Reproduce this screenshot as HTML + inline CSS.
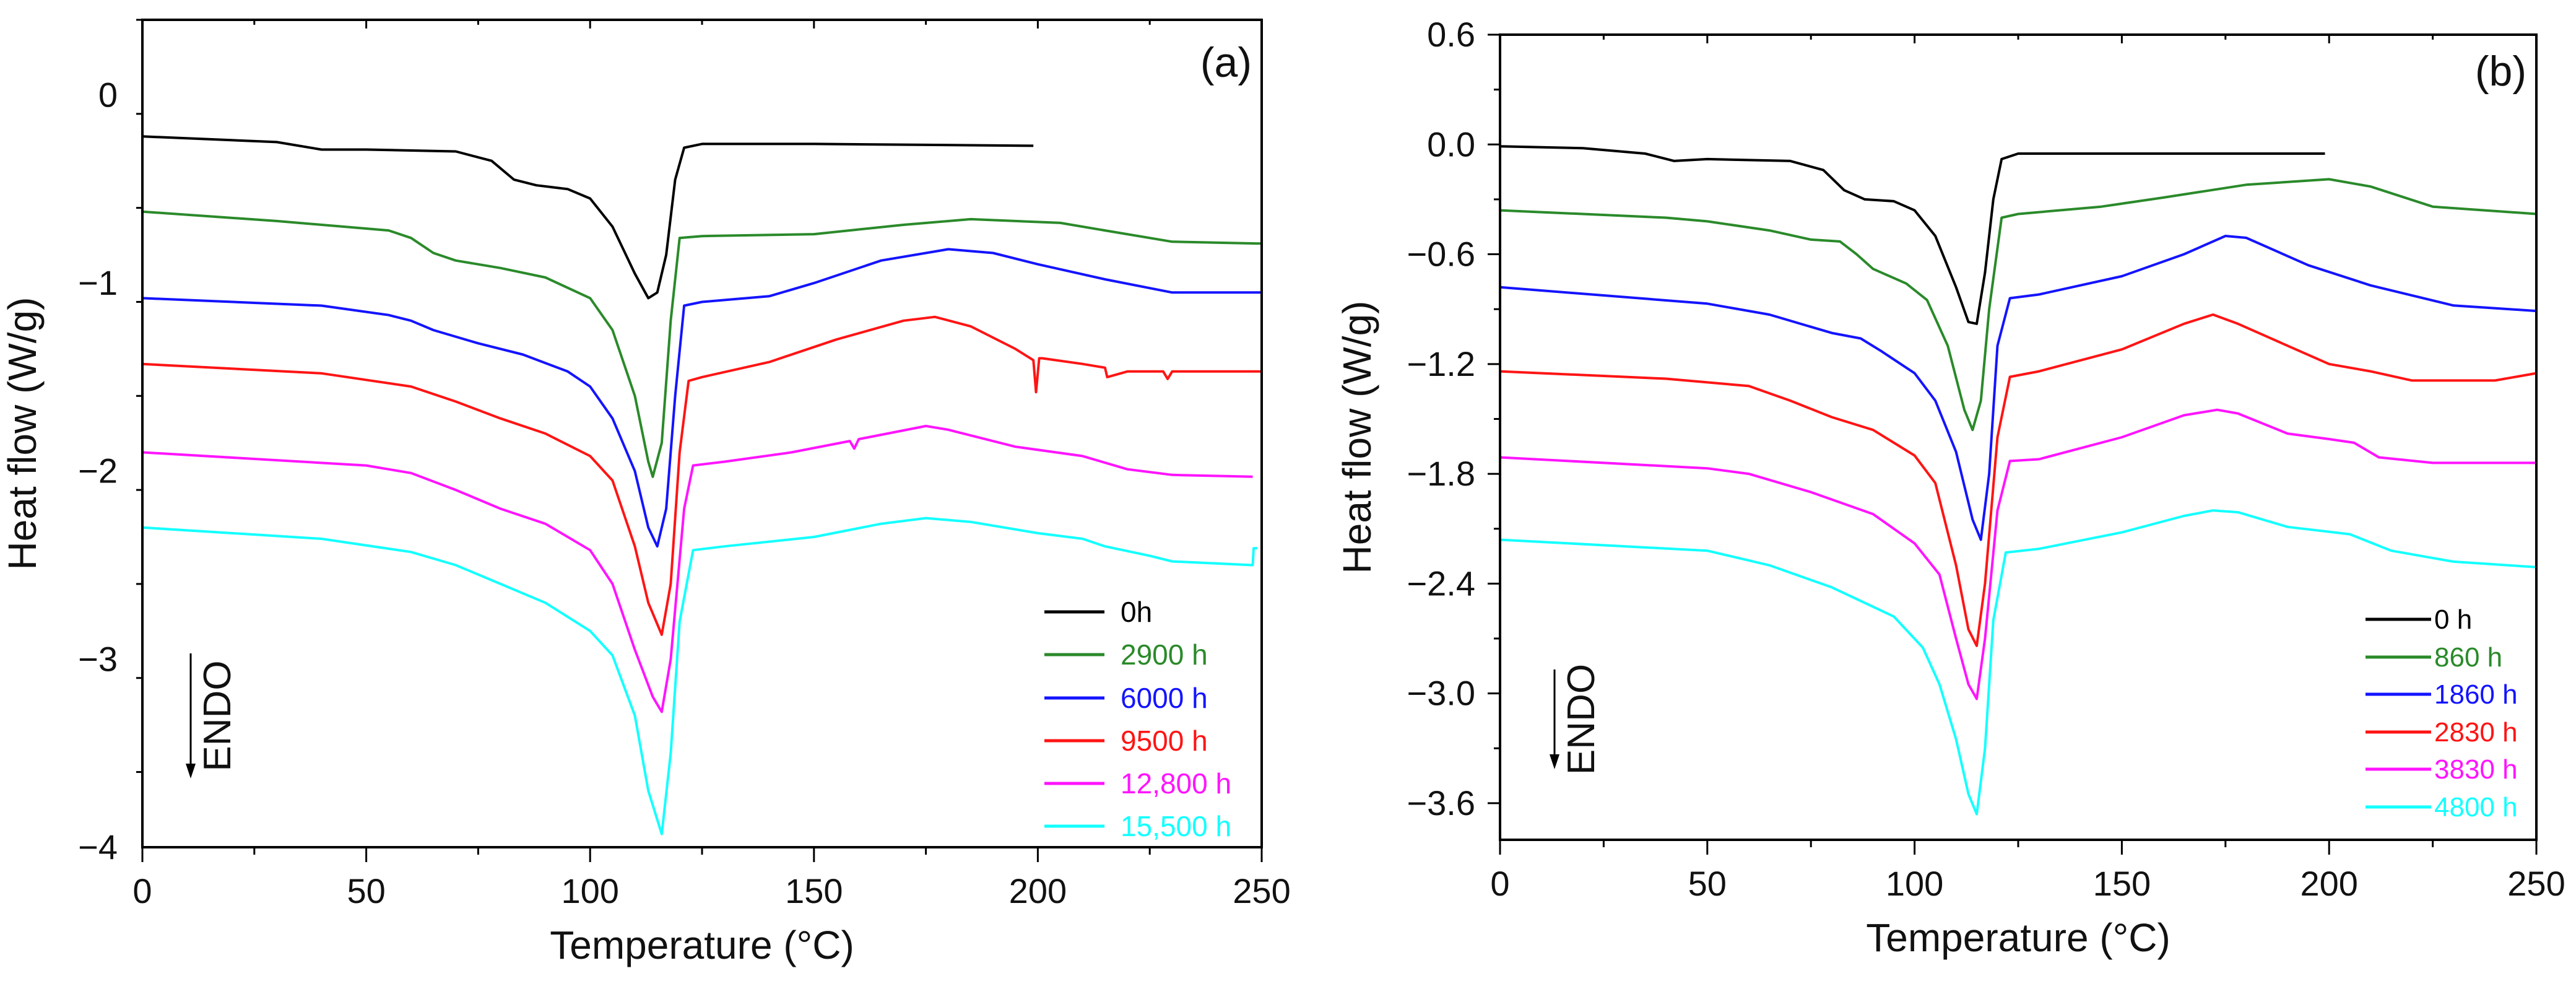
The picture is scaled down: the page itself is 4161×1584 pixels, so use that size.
<!DOCTYPE html>
<html><head><meta charset="utf-8"><style>
html,body{margin:0;padding:0;background:#fff;}
svg{display:block;}
text{font-family:"Liberation Sans",sans-serif;}
</style></head><body>
<svg id="fig" width="4161" height="1584" viewBox="0 0 4161 1584" xmlns="http://www.w3.org/2000/svg"></svg>
<script>
const NS="http://www.w3.org/2000/svg";
const seriesColors=["#000000","#2a8a2a","#1414ff","#ff1414","#ff14ff","#14ffff"];
// Panel (a)
const labelsA=["0h","2900 h","6000 h","9500 h","12,800 h","15,500 h"];
const yTicksA=[0,-1,-2,-3,-4];
const yTickLabelsA=["0","\u22121","\u22122","\u22123","\u22124"];
const xTicks=[0,50,100,150,200,250];
const a0T=[0,30,40,50,70,78,83,88,95,100,105,110,113,115,117,119,121,125,150,199];
const a0V=[-0.22,-0.25,-0.29,-0.29,-0.30,-0.35,-0.45,-0.48,-0.50,-0.55,-0.70,-0.95,-1.08,-1.05,-0.85,-0.45,-0.28,-0.26,-0.26,-0.27];
const a1T=[0,30,55,60,65,70,80,90,100,105,110,113,114,116,118,120,125,150,170,185,205,215,230,250];
const a1V=[-0.62,-0.67,-0.72,-0.76,-0.84,-0.88,-0.92,-0.97,-1.08,-1.25,-1.6,-1.95,-2.03,-1.85,-1.2,-0.76,-0.75,-0.74,-0.69,-0.66,-0.68,-0.72,-0.78,-0.79];
const a2T=[0,40,55,60,65,75,85,95,100,105,110,113,115,117,119,121,125,140,150,165,180,190,200,215,230,250];
const a2V=[-1.08,-1.12,-1.17,-1.20,-1.25,-1.32,-1.38,-1.47,-1.55,-1.72,-2.0,-2.3,-2.4,-2.2,-1.6,-1.12,-1.10,-1.07,-1.0,-0.88,-0.82,-0.84,-0.90,-0.98,-1.05,-1.05];
const a3T=[0,40,60,70,80,90,100,105,110,113,116,118,120,122,125,140,155,170,177,185,195,199,199.6,200.3,201,210,215,215.5,220,228,229,230,250];
const a3V=[-1.43,-1.48,-1.55,-1.63,-1.72,-1.80,-1.92,-2.05,-2.4,-2.7,-2.87,-2.6,-1.9,-1.52,-1.50,-1.42,-1.30,-1.2,-1.18,-1.23,-1.35,-1.41,-1.58,-1.40,-1.40,-1.43,-1.45,-1.50,-1.47,-1.47,-1.51,-1.47,-1.47];
const a4T=[0,50,60,70,80,90,100,105,110,114,116,118,121,123,130,145,158,159,160,175,180,195,210,220,230,248];
const a4V=[-1.90,-1.97,-2.01,-2.10,-2.20,-2.28,-2.42,-2.6,-2.95,-3.2,-3.28,-3.0,-2.2,-1.97,-1.95,-1.90,-1.84,-1.88,-1.83,-1.76,-1.78,-1.87,-1.92,-1.99,-2.02,-2.03];
const a5T=[0,40,60,70,80,90,100,105,110,113,116,118,120,123,130,150,165,175,185,200,210,215,225,230,248,248.2,249];
const a5V=[-2.30,-2.36,-2.43,-2.50,-2.60,-2.70,-2.85,-2.98,-3.3,-3.7,-3.93,-3.5,-2.8,-2.42,-2.40,-2.35,-2.28,-2.25,-2.27,-2.33,-2.36,-2.40,-2.45,-2.48,-2.50,-2.41,-2.41];
// Panel (b)
const labelsB=["0 h","860 h","1860 h","2830 h","3830 h","4800 h"];
const yTicksB=[0.6,0.0,-0.6,-1.2,-1.8,-2.4,-3.0,-3.6];
const yTickLabelsB=["0.6","0.0","\u22120.6","\u22121.2","\u22121.8","\u22122.4","\u22123.0","\u22123.6"];
const b0T=[0,20,35,42,50,70,78,83,88,95,100,105,110,113,115,117,119,121,125,199];
const b0V=[-0.01,-0.02,-0.05,-0.09,-0.08,-0.09,-0.14,-0.25,-0.30,-0.31,-0.36,-0.5,-0.78,-0.97,-0.98,-0.7,-0.3,-0.08,-0.05,-0.05];
const b1T=[0,40,50,65,75,82,86,90,98,103,108,112,114,116,118,121,125,145,160,180,200,210,225,250];
const b1V=[-0.36,-0.40,-0.42,-0.47,-0.52,-0.53,-0.60,-0.68,-0.76,-0.85,-1.1,-1.45,-1.56,-1.4,-0.9,-0.40,-0.38,-0.34,-0.29,-0.22,-0.19,-0.23,-0.34,-0.38];
const b2T=[0,50,65,80,87,92,100,105,110,114,116,118,120,123,130,150,165,175,180,195,210,230,250];
const b2V=[-0.78,-0.87,-0.93,-1.03,-1.06,-1.13,-1.25,-1.4,-1.68,-2.05,-2.16,-1.8,-1.1,-0.84,-0.82,-0.72,-0.6,-0.50,-0.51,-0.66,-0.77,-0.88,-0.91];
const b3T=[0,40,60,70,80,90,100,105,110,113,115,117,120,123,130,150,165,172,178,190,200,210,220,240,250];
const b3V=[-1.24,-1.28,-1.32,-1.40,-1.49,-1.56,-1.70,-1.85,-2.3,-2.65,-2.74,-2.4,-1.6,-1.27,-1.24,-1.12,-0.98,-0.93,-0.98,-1.10,-1.2,-1.24,-1.29,-1.29,-1.25];
const b4T=[0,50,60,75,90,100,106,110,113,115,117,120,123,130,150,165,173,178,190,200,206,212,225,250];
const b4V=[-1.71,-1.77,-1.80,-1.90,-2.02,-2.18,-2.35,-2.7,-2.95,-3.03,-2.7,-2.0,-1.73,-1.72,-1.6,-1.48,-1.45,-1.47,-1.58,-1.61,-1.63,-1.71,-1.74,-1.74];
const b5T=[0,50,65,80,95,102,106,110,113,115,117,119,122,130,150,165,172,178,190,205,215,230,250];
const b5V=[-2.16,-2.22,-2.30,-2.42,-2.58,-2.75,-2.95,-3.25,-3.55,-3.66,-3.3,-2.6,-2.23,-2.21,-2.12,-2.03,-2.00,-2.01,-2.09,-2.13,-2.22,-2.28,-2.31];

const svg=document.getElementById('fig');
function mk(tag,attrs,parent,txt){const e=document.createElementNS(NS,tag);for(const k in attrs)e.setAttribute(k,attrs[k]);if(txt!==undefined)e.textContent=txt;(parent||svg).appendChild(e);return e;}

function panel(cfg){
  const g=mk('g',{});
  
  
  const X=v=>cfg.L+(v-0)/(250-0)*(cfg.R-cfg.L);
  const Y=v=>cfg.T+(cfg.ymax-v)/(cfg.ymax-cfg.ymin)*(cfg.B-cfg.T);
  cfg.series.forEach((s,i)=>{
    const pts=s[0].map((t,j)=>X(t).toFixed(1)+','+Y(s[1][j]).toFixed(1)).join(' ');
    const p=mk('polyline',{points:pts,fill:'none',stroke:seriesColors[i],'stroke-width':4,'stroke-linejoin':'round'},g);
    
    
  });
  const fr=mk('rect',{x:cfg.L,y:cfg.T,width:cfg.R-cfg.L,height:cfg.B-cfg.T,fill:'none',stroke:'#000','stroke-width':4},g);
  
  
  for(let v=0;v<=250;v+=25){
    const major=v%50===0;
    mk('line',{x1:X(v),x2:X(v),y1:cfg.B,y2:cfg.B+(major?24:12),stroke:'#000','stroke-width':3},g);
    mk('line',{x1:X(v),x2:X(v),y1:cfg.T,y2:cfg.T+(major?14:8),stroke:'#000','stroke-width':3},g);
  }
  xTicks.forEach(v=>{
    const t=mk('text',{x:X(v),y:cfg.B+90,'font-size':56,'text-anchor':'middle',fill:'#111'},g,String(v));
    
    
  });
  for(let v=cfg.ymax;v>=cfg.ymin-1e-9;v-=cfg.minor){
    const major=cfg.yTicks.some(m=>Math.abs(m-v)<1e-6);
    mk('line',{x1:cfg.L-(major?20:10),x2:cfg.L,y1:Y(v),y2:Y(v),stroke:'#000','stroke-width':3},g);
  }
  cfg.yTicks.forEach((v,i)=>{
    const t=mk('text',{x:cfg.L-40,y:Y(v)+19,'font-size':56,'text-anchor':'end',fill:'#111'},g,cfg.yLabels[i]);
    
    
  });
  const xt=mk('text',{x:(cfg.L+cfg.R)/2,y:cfg.B+180,'font-size':64,'text-anchor':'middle',fill:'#111'},g,'Temperature (\u00b0C)');
  
  
  const yt=mk('text',{x:0,y:0,'font-size':64,'text-anchor':'middle',fill:'#111',transform:`translate(${cfg.ytx},${(cfg.T+cfg.B)/2}) rotate(-90)`},g,'Heat flow (W/g)');
  
  
  const pl=mk('text',{x:cfg.R-16,y:cfg.T+(cfg.T<40?92:82),'font-size':68,'text-anchor':'end',fill:'#111'},g,cfg.tag);
  
  
  const ar=mk('line',{x1:cfg.ax,x2:cfg.ax,y1:cfg.ay1,y2:cfg.ay2-20,stroke:'#000','stroke-width':3},g);
  
  
  mk('polygon',{points:`${cfg.ax-8},${cfg.ay2-24} ${cfg.ax+8},${cfg.ay2-24} ${cfg.ax},${cfg.ay2}`,fill:'#000'},g);
  const en=mk('text',{x:0,y:0,'font-size':62,'text-anchor':'middle',fill:'#111',transform:`translate(${cfg.ax+64},${(cfg.ay1+cfg.ay2)/2}) rotate(-90)`},g,'ENDO');
  
  
  cfg.labels.forEach((lab,i)=>{
    const y=cfg.legY[i];
    const le=mk('g',{},g);
    
    
    mk('line',{x1:cfg.lx1,x2:cfg.lx2,y1:y,y2:y,stroke:seriesColors[i],'stroke-width':5},le);
    mk('text',{x:cfg.tx,y:y+cfg.tdy,'font-size':cfg.lfs,fill:seriesColors[i]},le,lab);
  });
}

panel({name:'panel-a',tag:'(a)',L:230,R:2038,T:32,B:1368,ymax:0.4,ymin:-4,minor:0.5,
  yTicks:yTicksA,yLabels:yTickLabelsA,ytx:58,ax:308,ay1:1055,ay2:1257,
  labels:labelsA,legY:[988,1057,1127,1196,1265,1334],lx1:1687,lx2:1784,tx:1810,tdy:16,lfs:46,
  series:[[a0T,a0V],[a1T,a1V],[a2T,a2V],[a3T,a3V],[a4T,a4V],[a5T,a5V]]});
panel({name:'panel-b',tag:'(b)',L:2423,R:4097,T:56,B:1356,ymax:0.6,ymin:-3.8,minor:0.3,
  yTicks:yTicksB,yLabels:yTickLabelsB,ytx:2214,ax:2511,ay1:1081,ay2:1242,
  labels:labelsB,legY:[1000,1061,1121,1182,1242,1303],lx1:3821,lx2:3927,tx:3932,tdy:15,lfs:44,
  series:[[b0T,b0V],[b1T,b1V],[b2T,b2V],[b3T,b3V],[b4T,b4V],[b5T,b5V]]});
</script>
</body></html>
